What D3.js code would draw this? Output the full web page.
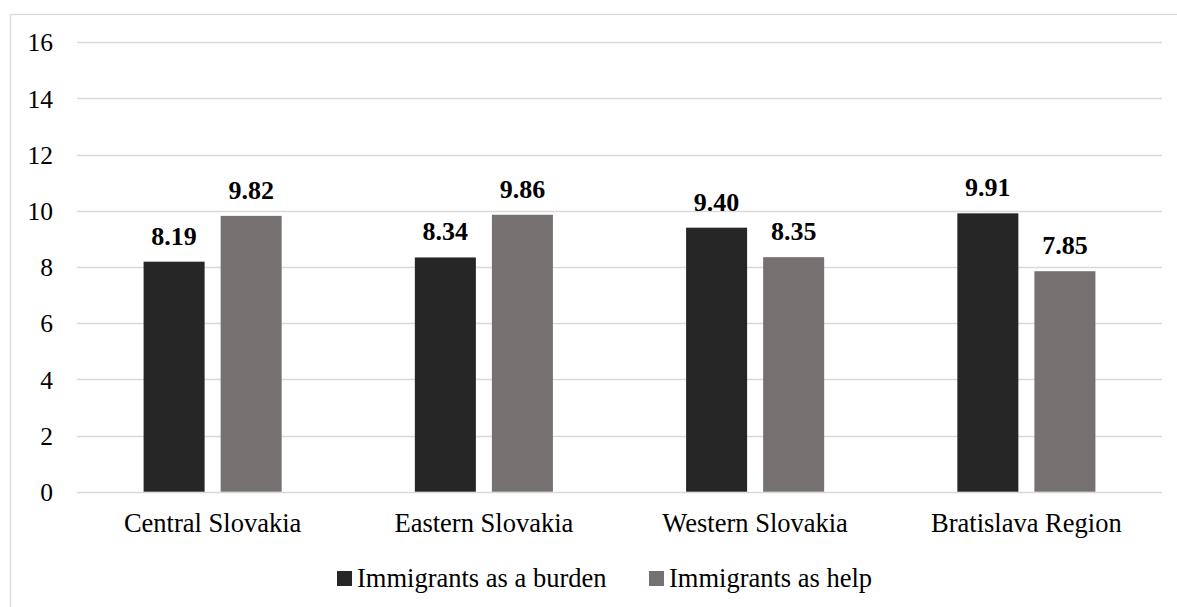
<!DOCTYPE html>
<html>
<head>
<meta charset="utf-8">
<script src="https://cdn.jsdelivr.net/npm/d3@7"></script>
</head>
<body style="margin:0;padding:0;background:#fff">
<svg id="chart" width="1177" height="607" style="display:block"></svg>
<script>
// Regional perception of immigrants
const regions = ["Central Slovakia", "Eastern Slovakia", "Western Slovakia", "Bratislava Region"];
const seriesNames = ["Immigrants as a burden", "Immigrants as help"];
const burden = [8.19, 8.34, 9.40, 9.91];
const help = [9.82, 9.86, 8.35, 7.85];
const yTicks = [0, 2, 4, 6, 8, 10, 12, 14, 16];
const colors = ["#262626", "#767171"];

const W = 1177, H = 607;
const FONT = '"Liberation Serif"';
const svg = d3.select("#chart");

// outer chart frame (runs past the right and bottom edges)
svg.append("rect")
  .attr("x", 10.5).attr("y", 14.5)
  .attr("width", W + 20).attr("height", H + 20)
  .attr("fill", "#fff").attr("stroke", "#d9d9d9").attr("stroke-width", 1.3);

const plot = { left: 77, right: 1162, top: 42.3, bottom: 491.7 };

const y = d3.scaleLinear().domain([0, 16]).range([plot.bottom, plot.top]);
const x0 = d3.scaleBand().domain(regions).range([plot.left, plot.right]).padding(0);
const bw = x0.bandwidth();
const x1 = d3.scaleBand().domain(seriesNames)
  .range([bw * 0.2455, bw * 0.7545]).paddingInner(0.208);

// gridlines
svg.append("g").selectAll("line").data(yTicks).join("line")
  .attr("x1", plot.left).attr("x2", plot.right)
  .attr("y1", d => Math.round(y(d)) + 0.5).attr("y2", d => Math.round(y(d)) + 0.5)
  .attr("stroke", "#d9d9d9").attr("stroke-width", 1.3);

// y axis labels
const yAxis = d3.axisLeft(y).tickValues(yTicks).tickSize(0).tickPadding(0).tickFormat(d3.format("d"));
const gy = svg.append("g").attr("transform", "translate(53,0)").call(yAxis);
gy.select(".domain").remove();
gy.attr("font-family", "Liberation Serif");
gy.selectAll("text")
  .style("font-family", FONT).style("font-size", "25.5px").style("fill", "#000")
  .attr("dy", "0.34em");

// bars
const rows = regions.map((r, i) => ({ region: r, values: [burden[i], help[i]] }));
const groups = svg.append("g").selectAll("g").data(rows).join("g")
  .attr("transform", d => `translate(${x0(d.region)},0)`);

groups.selectAll("rect").data(d => d.values.map((v, j) => ({ name: seriesNames[j], v, j })))
  .join("rect")
  .attr("x", d => x1(d.name))
  .attr("width", x1.bandwidth())
  .attr("y", d => y(d.v))
  .attr("height", d => y(0) - y(d.v))
  .attr("fill", d => colors[d.j]);

// value labels
groups.selectAll("text.val").data(d => d.values.map((v, j) => ({ name: seriesNames[j], v, j })))
  .join("text").attr("class", "val")
  .attr("x", d => x1(d.name) + x1.bandwidth() / 2)
  .attr("y", d => y(d.v) - 17)
  .attr("text-anchor", "middle")
  .style("font-family", FONT).style("font-size", "26px").style("font-weight", "bold").style("fill", "#000")
  .text(d => d.v.toFixed(2));

// category axis
const xAxis = d3.axisBottom(x0).tickSize(0).tickPadding(0);
const gx = svg.append("g").attr("transform", `translate(0,${plot.bottom})`).call(xAxis);
gx.select(".domain").remove();
gx.attr("font-family", "Liberation Serif");
gx.selectAll("text")
  .style("font-family", FONT).style("font-size", "26.5px").style("fill", "#000")
  .attr("dy", 0).attr("y", 40);

// legend
const legendItems = [
  { name: seriesNames[0], color: colors[0], x: 337 },
  { name: seriesNames[1], color: colors[1], x: 649 }
];
const lg = svg.append("g").selectAll("g").data(legendItems).join("g")
  .attr("transform", d => `translate(${d.x},0)`);
lg.append("rect").attr("x", 0).attr("y", 571).attr("width", 15).attr("height", 15).attr("fill", d => d.color);
lg.append("text").attr("x", 20).attr("y", 587)
  .style("font-family", FONT).style("font-size", "26.5px").style("fill", "#000")
  .text(d => d.name);
</script>
</body>
</html>
